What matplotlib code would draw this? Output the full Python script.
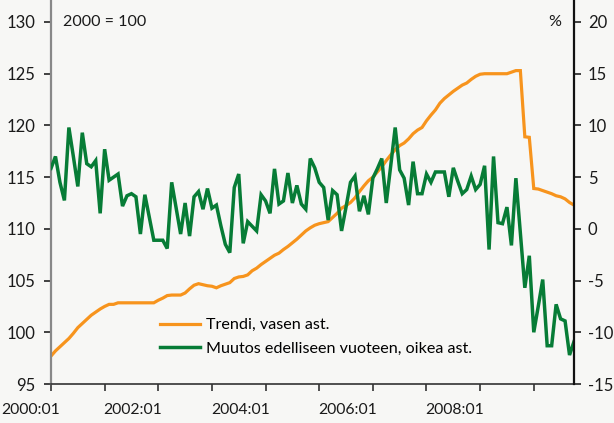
import matplotlib
matplotlib.use("Agg")
import matplotlib.pyplot as plt
from matplotlib.lines import Line2D
from matplotlib.transforms import blended_transform_factory
import numpy as np

plt.rcParams['font.family'] = ['Lato', 'DejaVu Sans']
plt.rcParams['axes.unicode_minus'] = False

# Monthly data 2000:01 .. 2009:10
trend = [97.7, 98.2, 98.6, 99.0, 99.4, 99.9, 100.45, 100.85, 101.25, 101.65, 101.95, 102.25,
         102.5, 102.7, 102.7, 102.85, 102.85, 102.85, 102.85, 102.85, 102.85, 102.85, 102.85, 102.85,
         103.1, 103.3, 103.55, 103.6, 103.6, 103.6, 103.8, 104.2, 104.55, 104.7, 104.6, 104.5,
         104.45, 104.3, 104.5, 104.65, 104.8, 105.2, 105.35, 105.4, 105.55, 105.95, 106.2, 106.55,
         106.85, 107.15, 107.45, 107.65, 108.0, 108.3, 108.65, 109.0, 109.4, 109.8, 110.1, 110.35,
         110.5, 110.6, 110.7, 111.1, 111.5, 112.0, 112.25, 112.55, 113.0, 113.6, 114.15, 114.65,
         115.0, 115.5, 116.0, 116.6, 117.15, 117.65, 118.05, 118.3, 118.7, 119.2, 119.55, 119.8,
         120.45, 121.0, 121.5, 122.15, 122.6, 122.95, 123.3, 123.6, 123.9, 124.1, 124.45, 124.75,
         124.95, 125.0, 125.0, 125.0, 125.0, 125.0, 125.0, 125.15, 125.3, 125.3, 118.9, 118.85,
         113.9, 113.85, 113.7, 113.55, 113.4, 113.2, 113.1, 112.9, 112.55, 112.3]

change = [5.85, 7.0, 4.5, 2.75, 9.8, 7.0, 4.1, 9.3, 6.3, 6.0, 6.6, 1.5,
          7.7, 4.7, 5.0, 5.3, 2.2, 3.2, 3.4, 3.1, -0.5, 3.3, 1.1, -1.1,
          -1.1, -1.1, -1.9, 4.5, 2.0, -0.5, 2.5, -0.7, 3.1, 3.6, 1.9, 3.9,
          2.0, 2.3, 0.3, -1.5, -2.3, 4.0, 5.3, -1.4, 0.7, 0.25, -0.2, 3.3,
          2.7, 1.5, 5.8, 2.4, 2.7, 5.4, 2.5, 4.2, 2.4, 1.9, 6.8, 5.9,
          4.5, 4.0, 0.85, 3.7, 3.3, -0.2, 2.1, 4.5, 5.1, 1.7, 3.2, 1.4,
          4.9, 5.8, 6.8, 2.5, 6.1, 9.8, 5.7, 4.9, 2.3, 6.5, 3.4, 3.4,
          5.3, 4.5, 5.5, 5.5, 5.5, 3.1, 5.9, 4.6, 3.4, 3.8, 5.1, 3.8,
          4.3, 6.1, -2.0, 7.0, 0.6, 0.5, 2.1, -1.6, 4.9, -0.4, -5.7, -2.6,
          -10.0, -7.5, -4.9, -11.3, -11.3, -7.3, -8.7, -8.9, -12.2, -10.9]

xlabels = ["2000:01", "2002:01", "2004:01", "2006:01", "2008:01"]
left_ticks = [95, 100, 105, 110, 115, 120, 125, 130]
right_ticks = [-15, -10, -5, 0, 5, 10, 15, 20]

labels = ["Trendi, vasen ast.", "Muutos edelliseen vuoteen, oikea ast."]

bg = "#f7f7f5"
orange = "#f7941d"
green = "#077c36"
txt = "#1a1a1a"
fs = 11.6

W, H = 614, 423
fig = plt.figure(figsize=(W / 100, H / 100), dpi=100, facecolor=bg)
# axes span from top of figure down to the x-axis; value 130 / 20 sits at y=22 px
ax = fig.add_axes([51 / W, 1 - 384 / H, (574 - 51) / W, 384 / H])
ax.set_facecolor(bg)
ax2 = ax.twinx()

ext = 35 * 384 / 362  # data units covered by full axes height

x = np.arange(len(trend))
ax.plot(x, trend, color=orange, lw=2.3, solid_joinstyle='miter')
ax2.plot(np.arange(len(change)), change, color=green, lw=2.5, solid_joinstyle='miter')

ax.set_xlim(0, len(trend) - 1)
ax.set_ylim(95, 95 + ext)
ax2.set_ylim(-15, -15 + ext)
ax.set_yticks(left_ticks)
ax2.set_yticks(right_ticks)
ax.set_xticks(np.arange(0, len(trend), 12))
ax.set_xticklabels([])

for a in (ax, ax2):
    a.spines['top'].set_visible(False)
ax.spines['left'].set_color('#888888')
ax.spines['left'].set_linewidth(1.6)
ax.spines['bottom'].set_color('#333333')
ax.spines['bottom'].set_linewidth(1.2)
ax2.spines['left'].set_visible(False)
ax2.spines['bottom'].set_visible(False)
ax2.spines['right'].set_color('#111111')
ax2.spines['right'].set_linewidth(1.6)
ax.spines['right'].set_visible(False)

ax.tick_params(axis='y', direction='out', length=5, width=1.2, color='#222222',
               labelsize=fs + 0.4, pad=6, labelcolor=txt)
ax2.tick_params(axis='y', direction='out', length=5, width=1.2, color='#222222',
                labelsize=fs + 0.4, pad=5, labelcolor=txt)
ax.tick_params(axis='x', direction='out', length=5, width=1.2, color='#333333')

for i, lab in enumerate(xlabels):
    if i == 0:
        tr = blended_transform_factory(fig.transFigure, ax.transAxes)
        ax.text(1 / W, -0.05, lab, transform=tr, ha='left', va='top',
                fontsize=fs - 0.3, color=txt)
    else:
        ax.text(i * 24 + 0.9, -0.05, lab, transform=ax.get_xaxis_transform(),
                ha='right', va='top', fontsize=fs - 0.3, color=txt)

fig.text(63 / W, 1 - 22 / H, "2000 = 100", ha='left', va='center', fontsize=fs, color=txt)
fig.text(561 / W, 1 - 22 / H, "%", ha='right', va='center', fontsize=fs, color=txt)

handles = [Line2D([], [], color=orange, lw=2.3), Line2D([], [], color=green, lw=2.5)]
fig.legend(handles, labels, loc='upper left', bbox_to_anchor=(160 / W, 1 - 318 / H),
           frameon=False, fontsize=fs, handlelength=2.5, handletextpad=0.35,
           labelspacing=0.55, borderpad=0, borderaxespad=0)

fig.savefig("out.png", dpi=100, facecolor=bg)
